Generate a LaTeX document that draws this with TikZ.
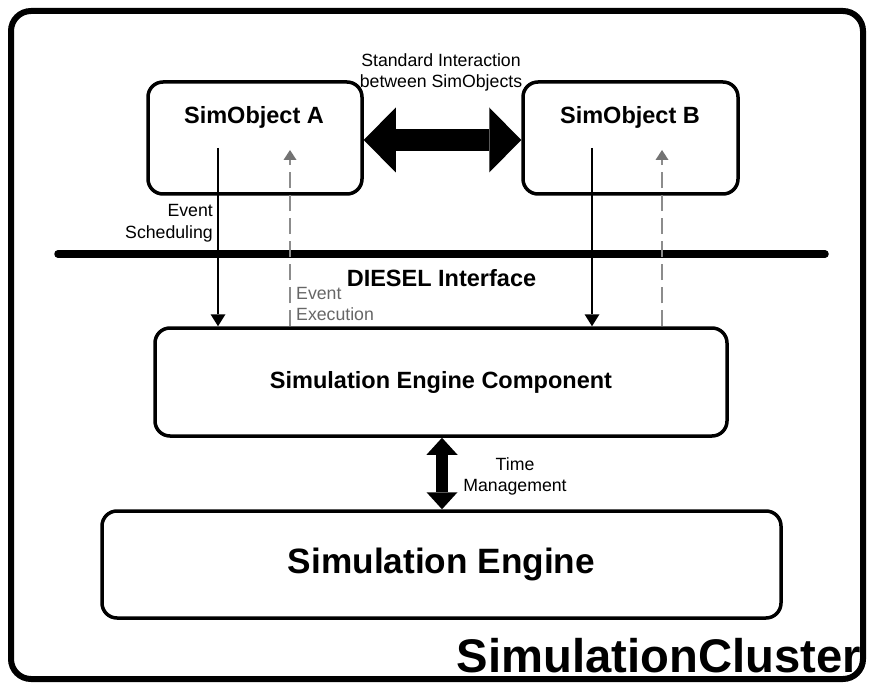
\documentclass[tikz,border=0pt]{standalone}
\usepackage{fontspec}
\setmainfont{Liberation Sans}
\usetikzlibrary{arrows.meta,calc}

\tikzset{
  box/.style={draw, line width=3.5pt, rounded corners=15pt, inner sep=0pt},
  boxtitle/.style={font=\bfseries\fontsize{23.5}{28}\selectfont, inner sep=0pt},
  lbl/.style={font=\fontsize{17.7}{21.5}\selectfont, inner sep=0pt},
  sched/.style={line width=1.3pt, -{Triangle[length=12pt,width=15pt,line width=0pt]}},
  exec/.style={line width=1.3pt, draw=black!45, dash pattern=on 16pt off 7pt,
    -{Triangle[length=10pt,width=13pt,line width=0pt,fill=black!55]}},
  fatarrow/.style={line width=22pt,
    {Triangle[length=32pt,width=65pt,line width=0pt]}-{Triangle[length=32pt,width=65pt,line width=0pt]}},
  timearrow/.style={line width=12pt,
    {Triangle[length=17pt,width=31pt,line width=0pt]}-{Triangle[length=17pt,width=31pt,line width=0pt]}}
}

\begin{document}
\begin{tikzpicture}[x=1pt,y=-1pt]
\useasboundingbox (0,0) rectangle (869,684);

% cluster frame
\draw[line width=6pt, rounded corners=20pt] (11,11) rectangle (863,679);

% sim objects
\node[box, minimum width=214pt, minimum height=112pt] (A) at (255,138) {};
\node[box, minimum width=215pt, minimum height=112pt] (B) at (630.5,138) {};
\node[boxtitle] (Atitle) at (254,117) {SimObject A};
\node[boxtitle] (Btitle) at (630,117) {SimObject B};

% engine component and engine
\node[box, minimum width=572pt, minimum height=108pt] (SEC) at (441,382) {};
\node[boxtitle] (SECtitle) at (441,382) {Simulation Engine Component};
\node[box, minimum width=679pt, minimum height=107pt] (SE) at (441.5,564.5)
  {\bfseries\fontsize{35.2}{40}\selectfont Simulation Engine};

% interaction between the sim objects
\draw[fatarrow] ($(A.east)+(0,2)$) -- ($(B.west)+(0,2)$);
\node[lbl, align=center] (stdlbl) at (441,72.5) {Standard Interaction\\between SimObjects};

% DIESEL interface line
\coordinate (ifl) at (58,254);
\coordinate (ifr) at (825,254);
\draw[line width=7.5pt, line cap=round] (ifl) -- (ifr);
\node[boxtitle] (diesel) at (441.5,278) {DIESEL Interface};

% event scheduling / execution
\coordinate (a1) at ($(A.center)+(-37,10)$);
\coordinate (a2) at ($(A.center)+(35,12)$);
\coordinate (b1) at ($(B.center)+(-38.5,10)$);
\coordinate (b2) at ($(B.center)+(31.5,12)$);
\draw[sched] (a1) -- (a1 |- SEC.north);
\draw[sched] (b1) -- (b1 |- SEC.north);
\draw[exec] (a2 |- SEC.north) -- (a2);
\draw[exec] (b2 |- SEC.north) -- (b2);
\node[lbl, align=right, anchor=east] (schedlbl) at (213,223) {Event\\Scheduling};
\node[lbl, align=left, anchor=west, text=black!60] (execlbl) at (296,304) {Event\\Execution};

% time management
\draw[timearrow] ($(SEC.south)+(1,0)$) -- ($(SE.north)+(0.5,0)$);
\node[lbl, align=center] (timelbl) at (515,476.5) {Time\\Management};

% cluster name
\node[font=\bfseries\fontsize{47.2}{50}\selectfont, inner sep=0pt, anchor=base east] (cluster) at (861,672) {SimulationCluster};
\end{tikzpicture}
\end{document}
